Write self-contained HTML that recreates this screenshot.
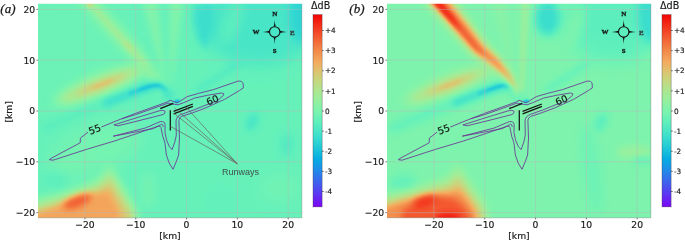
<!DOCTYPE html>
<html lang="en"><head><meta charset="utf-8"><title>Figure</title>
<style>html,body{margin:0;padding:0;background:#fff;overflow:hidden}svg{display:block}</style>
</head><body>
<svg width="685" height="241" viewBox="0 0 685 241">

<defs>
<clipPath id="clip"><rect x="38.0" y="3.75" width="263.8" height="214.05"/></clipPath>
<filter id="b1" filterUnits="userSpaceOnUse" x="-400" y="-400" width="1200" height="1000" color-interpolation-filters="sRGB"><feGaussianBlur stdDeviation="1"/></filter>
<filter id="b1_5" filterUnits="userSpaceOnUse" x="-400" y="-400" width="1200" height="1000" color-interpolation-filters="sRGB"><feGaussianBlur stdDeviation="1.5"/></filter>
<filter id="b2" filterUnits="userSpaceOnUse" x="-400" y="-400" width="1200" height="1000" color-interpolation-filters="sRGB"><feGaussianBlur stdDeviation="2"/></filter>
<filter id="b2_5" filterUnits="userSpaceOnUse" x="-400" y="-400" width="1200" height="1000" color-interpolation-filters="sRGB"><feGaussianBlur stdDeviation="2.5"/></filter>
<filter id="b3" filterUnits="userSpaceOnUse" x="-400" y="-400" width="1200" height="1000" color-interpolation-filters="sRGB"><feGaussianBlur stdDeviation="3"/></filter>
<filter id="b4" filterUnits="userSpaceOnUse" x="-400" y="-400" width="1200" height="1000" color-interpolation-filters="sRGB"><feGaussianBlur stdDeviation="4"/></filter>
<filter id="b5" filterUnits="userSpaceOnUse" x="-400" y="-400" width="1200" height="1000" color-interpolation-filters="sRGB"><feGaussianBlur stdDeviation="5"/></filter>
<filter id="b8" filterUnits="userSpaceOnUse" x="-400" y="-400" width="1200" height="1000" color-interpolation-filters="sRGB"><feGaussianBlur stdDeviation="8"/></filter>
<filter id="b12" filterUnits="userSpaceOnUse" x="-400" y="-400" width="1200" height="1000" color-interpolation-filters="sRGB"><feGaussianBlur stdDeviation="12"/></filter>

<filter id="cmap" filterUnits="userSpaceOnUse" x="0" y="-10" width="360" height="260" color-interpolation-filters="sRGB">
<feComponentTransfer><feFuncR type="table" tableValues="0.488 0.458 0.429 0.400 0.371 0.341 0.312 0.283 0.254 0.225 0.195 0.166 0.137 0.108 0.078 0.049 0.020 0.049 0.078 0.108 0.137 0.166 0.195 0.225 0.254 0.283 0.312 0.341 0.371 0.400 0.429 0.458 0.488 0.517 0.546 0.575 0.604 0.634 0.663 0.692 0.721 0.750 0.780 0.809 0.838 0.867 0.897 0.926 0.955 0.955 0.955 0.955 0.955 0.955 0.955 0.955 0.955 0.955 0.955 0.955 0.955 0.955 0.955 0.955 0.955"/><feFuncG type="table" tableValues="0.020 0.066 0.112 0.157 0.202 0.247 0.291 0.335 0.378 0.420 0.461 0.501 0.539 0.577 0.613 0.648 0.681 0.713 0.743 0.771 0.797 0.822 0.845 0.865 0.884 0.900 0.915 0.927 0.937 0.945 0.950 0.954 0.955 0.954 0.950 0.945 0.937 0.927 0.915 0.900 0.884 0.865 0.845 0.822 0.797 0.771 0.743 0.713 0.681 0.648 0.613 0.577 0.539 0.501 0.461 0.420 0.378 0.335 0.291 0.247 0.202 0.157 0.112 0.066 0.020"/><feFuncB type="table" tableValues="0.955 0.955 0.954 0.952 0.950 0.948 0.945 0.941 0.937 0.932 0.927 0.921 0.915 0.908 0.900 0.892 0.884 0.875 0.865 0.855 0.845 0.834 0.822 0.810 0.797 0.784 0.771 0.757 0.743 0.728 0.713 0.697 0.681 0.665 0.648 0.631 0.613 0.595 0.577 0.558 0.539 0.520 0.501 0.481 0.461 0.440 0.420 0.399 0.378 0.357 0.335 0.313 0.291 0.269 0.247 0.225 0.202 0.180 0.157 0.134 0.112 0.089 0.066 0.043 0.020"/></feComponentTransfer>
</filter>
<linearGradient id="cbar" x1="0" y1="1" x2="0" y2="0">
<stop offset="0.00" stop-color="rgb(124,5,243)"/><stop offset="0.05" stop-color="rgb(100,42,242)"/><stop offset="0.10" stop-color="rgb(76,78,240)"/><stop offset="0.15" stop-color="rgb(52,113,236)"/><stop offset="0.20" stop-color="rgb(28,145,231)"/><stop offset="0.25" stop-color="rgb(5,173,225)"/><stop offset="0.30" stop-color="rgb(28,197,217)"/><stop offset="0.35" stop-color="rgb(52,217,208)"/><stop offset="0.40" stop-color="rgb(76,231,197)"/><stop offset="0.45" stop-color="rgb(100,240,186)"/><stop offset="0.50" stop-color="rgb(124,243,173)"/><stop offset="0.55" stop-color="rgb(148,240,159)"/><stop offset="0.60" stop-color="rgb(171,231,145)"/><stop offset="0.65" stop-color="rgb(195,217,129)"/><stop offset="0.70" stop-color="rgb(219,197,113)"/><stop offset="0.75" stop-color="rgb(243,173,96)"/><stop offset="0.80" stop-color="rgb(243,145,78)"/><stop offset="0.85" stop-color="rgb(243,113,60)"/><stop offset="0.90" stop-color="rgb(243,78,42)"/><stop offset="0.95" stop-color="rgb(243,42,23)"/><stop offset="1.00" stop-color="rgb(243,5,5)"/>
</linearGradient>
</defs>

<rect width="685" height="241" fill="#ffffff"/>
<g id="panelA">
<g clip-path="url(#clip)"><g filter="url(#cmap)"><rect x="36.0" y="1.75" width="267.8" height="218.05" fill="rgb(116,116,116)"/><ellipse cx="260" cy="22" rx="60" ry="44" fill="rgb(98,98,98)" opacity="0.85" filter="url(#b8)" /><ellipse cx="302" cy="13" rx="13" ry="30" fill="rgb(85,85,85)" opacity="0.9" filter="url(#b4)" /><path d="M194,4 L214,4 L213,30 L206,50 L198,40 L193,20 Z" fill="rgb(92,92,92)" opacity="0.85" filter="url(#b3)" /><ellipse cx="232" cy="22" rx="9" ry="24" transform="rotate(20 232 22)" fill="rgb(114,114,114)" opacity="0.7" filter="url(#b4)" /><path d="M198,90 L238,64" stroke-width="5" stroke-linecap="round" fill="none" stroke="rgb(98,98,98)" opacity="0.7" filter="url(#b3)" /><ellipse cx="252" cy="122" rx="6" ry="10" transform="rotate(25 252 122)" fill="rgb(96,96,96)" opacity="0.75" filter="url(#b3)" /><ellipse cx="287" cy="145" rx="7" ry="12" fill="rgb(101,101,101)" opacity="0.7" filter="url(#b4)" /><ellipse cx="280" cy="188" rx="22" ry="16" fill="rgb(125,125,125)" opacity="0.6" filter="url(#b8)" /><ellipse cx="70" cy="60" rx="70" ry="75" fill="rgb(120,120,120)" opacity="0.8" filter="url(#b12)" /><ellipse cx="95" cy="150" rx="50" ry="22" transform="rotate(-20 95 150)" fill="rgb(128,128,128)" opacity="0.7" filter="url(#b8)" /><path d="M77.4,-2.1 L85.6,8.3 L106.8,32.7 L128.7,56.6 L147.2,77.6 L163.5,95.7 L168.5,92.3 L156.8,70.4 L139.3,47.4 L117.2,23.3 L95.4,-0.3 L86.6,-9.9 Z" fill="rgb(141,141,141)" opacity="0.9" filter="url(#b4)" /><path d="M81.4,-4.8 L89.2,5.6 L110.1,29.7 L131.9,53.9 L144.9,67.0 L147.1,65.0 L136.1,50.1 L113.9,26.3 L92.8,2.4 L84.6,-7.2 Z" fill="rgb(150,150,150)" opacity="0.85" filter="url(#b2)" /><ellipse cx="128" cy="46" rx="2.2" ry="7" transform="rotate(-42 128 46)" fill="rgb(167,167,167)" opacity="0.6" filter="url(#b2)" /><ellipse cx="89.5" cy="3.5" rx="3" ry="4" fill="rgb(178,178,178)" opacity="0.7" filter="url(#b1_5)" /><g transform="translate(100,85) rotate(-21)"><ellipse rx="50" ry="12" fill="rgb(143,143,143)" opacity="0.9" filter="url(#b5)" /><ellipse cx="0" rx="40" ry="7" fill="rgb(157,157,157)" opacity="0.9" filter="url(#b3)" /><ellipse cx="1" rx="26" ry="4" fill="rgb(173,173,173)" opacity="0.9" filter="url(#b2_5)" /><ellipse cx="2" rx="13" ry="2" fill="rgb(186,186,186)" opacity="0.7" filter="url(#b1_5)" /></g><path d="M106,103 L128,94.5 L146,88 Q164,81 168.5,95" stroke-width="9" stroke-linecap="round" fill="none" stroke="rgb(89,89,89)" opacity="0.85" filter="url(#b3)" /><path d="M130,93.4 L142,89 Q160,81.5 165.5,89.5" stroke-width="2.6" stroke-linecap="round" fill="none" stroke="rgb(72,72,72)" opacity="0.75" filter="url(#b1_5)" /><path d="M140,89.6 L150,86.2 Q156,84.6 160,85.4" stroke-width="2" stroke-linecap="round" fill="none" stroke="rgb(58,58,58)" opacity="0.4" filter="url(#b1_5)" /><path d="M44,128 L100,105" stroke-width="8" stroke-linecap="round" fill="none" stroke="rgb(104,104,104)" opacity="0.7" filter="url(#b4)" /><ellipse cx="177" cy="101.2" rx="3.2" ry="1.6" transform="rotate(-15 177 101.2)" fill="rgb(58,58,58)" opacity="0.95" filter="url(#b1)" /><path d="M168,98 L142,0 L157,0 Z" fill="rgb(137,137,137)" opacity="0.7" filter="url(#b3)" /><path d="M170,98 L170,0 L183,0 Z" fill="rgb(137,137,137)" opacity="0.7" filter="url(#b3)" /><path d="M20,204 L60,194 L86,185 L100,179 L106,171 L110,164 L115,175 L125,191 L135,208 L144,252 L20,252 Z" fill="rgb(151,151,151)" opacity="0.95" filter="url(#b5)" /><path d="M20,214 L62,202 L86,193 L102,188 L107,181 L110,177 L114,187 L123,201 L131,214 L136,252 L20,252 Z" fill="rgb(181,181,181)" opacity="0.95" filter="url(#b4)" /><path d="M20,219 L50,209 L70,200 L92,194 L104,192 L109,190 L113,199 L119,210 L123,252 L20,252 Z" fill="rgb(197,197,197)" opacity="0.9" filter="url(#b3)" /><ellipse cx="77.5" cy="201.5" rx="15" ry="5.5" transform="rotate(-22 77.5 201.5)" fill="rgb(227,227,227)" opacity="0.95" filter="url(#b3)" /><ellipse cx="148" cy="190" rx="8" ry="18" fill="rgb(128,128,128)" opacity="0.6" filter="url(#b4)" /><ellipse cx="55" cy="180" rx="12" ry="7" fill="rgb(109,109,109)" opacity="0.7" filter="url(#b3)" /><ellipse cx="221" cy="202" rx="10" ry="12" fill="rgb(112,112,112)" opacity="0.6" filter="url(#b5)" /></g><g stroke="#b8b8b8" stroke-width="0.75" opacity="0.6"><line x1="84.89" y1="3.75" x2="84.89" y2="217.8"/><line x1="38.0" y1="212.62" x2="301.8" y2="212.62"/><line x1="135.72" y1="3.75" x2="135.72" y2="217.8"/><line x1="38.0" y1="161.81" x2="301.8" y2="161.81"/><line x1="186.55" y1="3.75" x2="186.55" y2="217.8"/><line x1="38.0" y1="111.00" x2="301.8" y2="111.00"/><line x1="237.38" y1="3.75" x2="237.38" y2="217.8"/><line x1="38.0" y1="60.19" x2="301.8" y2="60.19"/><line x1="288.21" y1="3.75" x2="288.21" y2="217.8"/><line x1="38.0" y1="9.38" x2="301.8" y2="9.38"/></g><g fill="none" stroke="#6c2c94" stroke-width="0.85" stroke-linejoin="round" stroke-linecap="round" opacity="0.95"><path d="M101.7,126.9 L115,121.4 L135.7,113.3 L155,106.4 L168,101.7 L170,100.2 L174.2,101.8 L177,102.8 L180.5,100.8 L187.3,96.6 L198.5,93.4 L213.5,89.6 L237.8,81.2 Q242.6,80.4 243.2,84 L243.3,88 L239.6,90.4 L224.7,99.3 L206,107.8 L191,113.4 L181.7,116.4 Q179,117.5 178.9,120.5 L179.5,138 L178.6,155 L176.5,161 L173,169.3 L169.2,163 L166.4,155 L164.9,142.8 L162.7,136.2 L161,127.5 Q160.6,125.6 158,126.2 L137.2,133.4 L114.8,140.9 L86.7,149.3 L53.1,160.2 L49.3,159.7 L51.2,158.3 L68,149.3 L80.2,142.8 L80.4,138.1 L87.7,132.4"/><path d="M122,118.7 L135.7,114.6 L155,107.8 L168,103.1 L174.5,104.4 L178,104.8 L183.6,102.7 L194.8,98 L207.9,95.2 L221.5,93 Q224.5,93 223.7,95.2 L217.2,100.8 L202.2,106.5 L194.8,109.6 L181.7,114.3 Q176.3,116 176,121 L176.3,135 L174.9,141.8 L172.1,149.6 L169.3,146.4 L166.5,140 L165,132.4 L165.1,124.5 Q164.8,121 160.4,121.6 L145.2,128 L113.3,136.2 L153.4,128.6 L161.6,124.2 Q163,124 163.2,126.5"/><path d="M114.3,124.8 L137,117.6 L160.4,110.5 Q165,110 165.1,111.9 Q165,113.8 162.8,114.6 L140,120.4 L118.4,125.7 Z"/></g><g stroke="#141414" stroke-width="1.25" fill="none"><line x1="160.2" y1="108.7" x2="173.3" y2="103.3"/><line x1="173.6" y1="111.4" x2="192.9" y2="104.0"/><line x1="173.6" y1="113.8" x2="192.9" y2="106.4"/><line x1="170.3" y1="110.2" x2="170.3" y2="130.4"/></g><g font-family="'DejaVu Sans','Liberation Sans',sans-serif" font-size="9.6" fill="#151515" stroke="#151515" stroke-width="0.18" text-anchor="middle"><text transform="translate(96.0,132.6) rotate(-21)">55</text><text transform="translate(213.9,103.2) rotate(-25)">60</text></g><circle cx="274.7" cy="31.9" r="5.2" fill="none" stroke="#111" stroke-width="1.1"/><path transform="rotate(0 274.7 31.9)" d="M273.34999999999997,26.55 Q274.4,25.8 274.7,19.599999999999998 Q275.0,25.8 276.05,26.55 Z" fill="#111"/><path transform="rotate(90 274.7 31.9)" d="M273.34999999999997,26.55 Q274.4,25.8 274.7,19.599999999999998 Q275.0,25.8 276.05,26.55 Z" fill="#111"/><path transform="rotate(180 274.7 31.9)" d="M273.34999999999997,26.55 Q274.4,25.8 274.7,19.599999999999998 Q275.0,25.8 276.05,26.55 Z" fill="#111"/><path transform="rotate(270 274.7 31.9)" d="M273.34999999999997,26.55 Q274.4,25.8 274.7,19.599999999999998 Q275.0,25.8 276.05,26.55 Z" fill="#111"/><g font-family="'Liberation Serif','DejaVu Serif',serif" font-weight="bold" font-size="7.0" fill="#151515" stroke="#151515" stroke-width="0.3" text-anchor="middle"><text x="274.7" y="16.0">N</text><text x="274.7" y="52.9">S</text><text x="256" y="34.3">W</text><text x="292.4" y="34.6" fill="#33423f" stroke="#33423f">E</text></g><g stroke="#6a5b5c" stroke-width="0.75" opacity="0.88"><line x1="237.3" y1="163.8" x2="170.3" y2="126.3"/><line x1="237.3" y1="163.8" x2="173.8" y2="113.2"/><line x1="237.3" y1="163.8" x2="174.5" y2="107.9"/><line x1="237.3" y1="163.8" x2="186" y2="107"/></g><text x="222" y="175.2" font-family="'Liberation Sans','DejaVu Sans',sans-serif" font-size="9" fill="#3f504e">Runways</text></g>
<g stroke="#222" stroke-width="0.6"><line x1="84.89" y1="217.8" x2="84.89" y2="219.4"/><line x1="36.4" y1="212.62" x2="38.0" y2="212.62"/><line x1="135.72" y1="217.8" x2="135.72" y2="219.4"/><line x1="36.4" y1="161.81" x2="38.0" y2="161.81"/><line x1="186.55" y1="217.8" x2="186.55" y2="219.4"/><line x1="36.4" y1="111.00" x2="38.0" y2="111.00"/><line x1="237.38" y1="217.8" x2="237.38" y2="219.4"/><line x1="36.4" y1="60.19" x2="38.0" y2="60.19"/><line x1="288.21" y1="217.8" x2="288.21" y2="219.4"/><line x1="36.4" y1="9.38" x2="38.0" y2="9.38"/></g><g font-family="'DejaVu Sans','Liberation Sans',sans-serif" font-size="9.2" fill="#1a1a1a" stroke="#1a1a1a" stroke-width="0.18"><text x="84.89" y="228.2" text-anchor="middle">−20</text><text x="35.2" y="216.02" text-anchor="end">−20</text><text x="135.72" y="228.2" text-anchor="middle">−10</text><text x="35.2" y="165.21" text-anchor="end">−10</text><text x="186.55" y="228.2" text-anchor="middle">0</text><text x="35.2" y="114.40" text-anchor="end">0</text><text x="237.38" y="228.2" text-anchor="middle">10</text><text x="35.2" y="63.59" text-anchor="end">10</text><text x="288.21" y="228.2" text-anchor="middle">20</text><text x="35.2" y="12.78" text-anchor="end">20</text><text x="170" y="238.6" text-anchor="middle">[km]</text><text transform="translate(12.1,111.9) rotate(-90)" text-anchor="middle">[km]</text></g><rect x="313" y="14.6" width="9.1" height="192.3" fill="url(#cbar)" stroke="#3a3a3a" stroke-width="0.45" stroke-opacity="0.75"/><path d="M301.8,3.75 L301.8,217.8 L38.0,217.8" fill="none" stroke="#3a4a44" stroke-width="0.5" stroke-opacity="0.55"/><g stroke="#222" stroke-width="0.6"><line x1="322" y1="30.52" x2="323.8" y2="30.52"/><line x1="322" y1="50.64" x2="323.8" y2="50.64"/><line x1="322" y1="70.76" x2="323.8" y2="70.76"/><line x1="322" y1="90.88" x2="323.8" y2="90.88"/><line x1="322" y1="111.00" x2="323.8" y2="111.00"/><line x1="322" y1="131.12" x2="323.8" y2="131.12"/><line x1="322" y1="151.24" x2="323.8" y2="151.24"/><line x1="322" y1="171.36" x2="323.8" y2="171.36"/><line x1="322" y1="191.48" x2="323.8" y2="191.48"/></g><g font-family="'DejaVu Sans','Liberation Sans',sans-serif" font-size="7.3" fill="#1a1a1a" stroke="#1a1a1a" stroke-width="0.15"><text x="324.9" y="33.17">+4</text><text x="324.9" y="53.29">+3</text><text x="324.9" y="73.41">+2</text><text x="324.9" y="93.53">+1</text><text x="324.9" y="113.65">0</text><text x="324.9" y="133.77">-1</text><text x="324.9" y="153.89">-2</text><text x="324.9" y="174.01">-3</text><text x="324.9" y="194.13">-4</text></g><text x="311.0" y="8.8" font-family="'DejaVu Sans','Liberation Sans',sans-serif" font-size="9.6" fill="#1a1a1a" stroke="#1a1a1a" stroke-width="0.15">ΔdB</text>
<text x="0.3" y="12.5" font-family="'Liberation Serif','DejaVu Serif',serif" font-style="italic" font-size="13" fill="#1a1a1a" stroke="#1a1a1a" stroke-width="0.25">(a)</text>
</g>
<g id="panelB" transform="translate(349.0,0)">
<g clip-path="url(#clip)"><g filter="url(#cmap)"><rect x="36.0" y="1.75" width="267.8" height="218.05" fill="rgb(128,128,128)"/><ellipse cx="266" cy="22" rx="50" ry="40" fill="rgb(108,108,108)" opacity="0.8" filter="url(#b8)" /><ellipse cx="302" cy="13" rx="13" ry="30" fill="rgb(90,90,90)" opacity="0.9" filter="url(#b4)" /><ellipse cx="198.5" cy="18" rx="13" ry="18" fill="rgb(89,89,89)" opacity="0.9" filter="url(#b4)" /><ellipse cx="226" cy="26" rx="8" ry="22" transform="rotate(15 226 26)" fill="rgb(133,133,133)" opacity="0.7" filter="url(#b4)" /><path d="M198,90 L238,64" stroke-width="5" stroke-linecap="round" fill="none" stroke="rgb(104,104,104)" opacity="0.7" filter="url(#b3)" /><ellipse cx="252" cy="122" rx="6" ry="10" transform="rotate(25 252 122)" fill="rgb(104,104,104)" opacity="0.7" filter="url(#b3)" /><ellipse cx="285" cy="152" rx="18" ry="6" fill="rgb(151,151,151)" opacity="0.8" filter="url(#b4)" /><ellipse cx="293" cy="160" rx="10" ry="3" fill="rgb(104,104,104)" opacity="0.7" filter="url(#b3)" /><ellipse cx="243" cy="170" rx="8" ry="45" transform="rotate(-8 243 170)" fill="rgb(116,116,116)" opacity="0.7" filter="url(#b5)" /><g transform="translate(100,85) rotate(-21)"><ellipse rx="50" ry="12" fill="rgb(143,143,143)" opacity="0.9" filter="url(#b5)" /><ellipse cx="0" rx="40" ry="7" fill="rgb(157,157,157)" opacity="0.9" filter="url(#b3)" /><ellipse cx="1" rx="26" ry="4" fill="rgb(173,173,173)" opacity="0.9" filter="url(#b2_5)" /><ellipse cx="2" rx="13" ry="2" fill="rgb(186,186,186)" opacity="0.7" filter="url(#b1_5)" /></g><path d="M106,103 L128,94.5 L146,88 Q164,81 168.5,95" stroke-width="9" stroke-linecap="round" fill="none" stroke="rgb(89,89,89)" opacity="0.85" filter="url(#b3)" /><path d="M130,93.4 L142,89 Q160,81.5 165.5,89.5" stroke-width="2.6" stroke-linecap="round" fill="none" stroke="rgb(72,72,72)" opacity="0.75" filter="url(#b1_5)" /><path d="M140,89.6 L150,86.2 Q156,84.6 160,85.4" stroke-width="2" stroke-linecap="round" fill="none" stroke="rgb(58,58,58)" opacity="0.4" filter="url(#b1_5)" /><path d="M44,128 L100,105" stroke-width="8" stroke-linecap="round" fill="none" stroke="rgb(104,104,104)" opacity="0.7" filter="url(#b4)" /><ellipse cx="177" cy="101.2" rx="3.2" ry="1.6" transform="rotate(-15 177 101.2)" fill="rgb(58,58,58)" opacity="0.95" filter="url(#b1)" /><path d="M168,98 L142,0 L157,0 Z" fill="rgb(137,137,137)" opacity="0.7" filter="url(#b3)" /><path d="M170,98 L170,0 L183,0 Z" fill="rgb(137,137,137)" opacity="0.7" filter="url(#b3)" /><path d="M176.5,0 L172.5,92" stroke-width="4" fill="none" stroke="rgb(151,151,151)" opacity="0.85" filter="url(#b2)" /><path d="M74.0,3.0 L83.1,12.4 L105.6,37.3 L122.9,56.0 L140.6,67.9 L155.5,78.3 L163.7,88.1 L167.6,97.4 L170.4,96.6 L168.3,85.9 L162.5,72.7 L151.4,56.1 L137.1,42.0 L123.4,22.7 L102.9,-4.4 L94.0,-15.0 Z" fill="rgb(151,151,151)" opacity="0.9" filter="url(#b4)" /><path d="M77.6,-0.2 L86.7,9.3 L108.8,34.7 L125.3,53.6 L142.6,65.7 L157.3,76.9 L164.9,87.5 L168.5,97.1 L169.5,96.9 L167.1,86.5 L160.7,74.1 L149.4,58.3 L134.7,44.4 L120.2,25.3 L99.3,-1.3 L90.4,-11.8 Z" fill="rgb(186,186,186)" opacity="0.95" filter="url(#b3)" /><path d="M79.4,-1.9 L88.6,7.7 L110.6,33.2 L127.0,51.9 L144.1,64.1 L158.2,76.1 L165.6,87.2 L168.9,97.0 L169.1,97.0 L166.4,86.8 L159.8,74.9 L147.9,59.9 L133.0,46.1 L118.4,26.8 L97.4,0.3 L88.6,-10.1 Z" fill="rgb(205,205,205)" opacity="0.95" filter="url(#b2)" /><path d="M77.8,-3.0 L87.4,6.8 L109.6,31.1 L124.4,47.5 L136.8,56.2 L137.2,55.8 L127.6,44.5 L114.4,26.9 L93.6,1.2 L84.2,-9.0 Z" fill="rgb(228,228,228)" opacity="0.9" filter="url(#b2)" /><path d="M78.9,-4.1 L88.0,5.8 L101.5,20.2 L110.7,29.2 L111.3,28.8 L104.5,17.8 L92.0,2.2 L83.1,-7.9 Z" fill="rgb(250,250,250)" opacity="0.9" filter="url(#b2)" /><ellipse cx="54" cy="183" rx="13" ry="8" fill="rgb(109,109,109)" opacity="0.7" filter="url(#b4)" /><path d="M20,199 L40,195 L60,190 L86,182 L100,177 L106,168 L109,162 L114,173 L124,187 L136,204 L146,252 L20,252 Z" fill="rgb(151,151,151)" opacity="0.95" filter="url(#b5)" /><path d="M20,207 L40,202 L60,197 L86,190 L102,187 L107,180 L109,176 L113,185 L123,198 L132,211 L138,252 L20,252 Z" fill="rgb(186,186,186)" opacity="0.95" filter="url(#b4)" /><path d="M20,212 L40,207 L54,202 L72,197 L92,194 L104,193 L110,191 L117,199 L125,211 L130,252 L20,252 Z" fill="rgb(207,207,207)" opacity="0.95" filter="url(#b3)" /><path d="M42,252 L54,210 L70,200 L90,196.5 L106,199 L116,208 L122,218 L125,252 Z" fill="rgb(228,228,228)" opacity="0.95" filter="url(#b3)" /><ellipse cx="76" cy="201.5" rx="12" ry="5" transform="rotate(-20 76 201.5)" fill="rgb(242,242,242)" opacity="0.85" filter="url(#b3)" /><ellipse cx="99" cy="218.5" rx="13" ry="5.5" fill="rgb(252,252,252)" opacity="0.9" filter="url(#b3)" /></g><g stroke="#b8b8b8" stroke-width="0.75" opacity="0.6"><line x1="84.89" y1="3.75" x2="84.89" y2="217.8"/><line x1="38.0" y1="212.62" x2="301.8" y2="212.62"/><line x1="135.72" y1="3.75" x2="135.72" y2="217.8"/><line x1="38.0" y1="161.81" x2="301.8" y2="161.81"/><line x1="186.55" y1="3.75" x2="186.55" y2="217.8"/><line x1="38.0" y1="111.00" x2="301.8" y2="111.00"/><line x1="237.38" y1="3.75" x2="237.38" y2="217.8"/><line x1="38.0" y1="60.19" x2="301.8" y2="60.19"/><line x1="288.21" y1="3.75" x2="288.21" y2="217.8"/><line x1="38.0" y1="9.38" x2="301.8" y2="9.38"/></g><g fill="none" stroke="#6c2c94" stroke-width="0.85" stroke-linejoin="round" stroke-linecap="round" opacity="0.95"><path d="M101.7,126.9 L115,121.4 L135.7,113.3 L155,106.4 L168,101.7 L170,100.2 L174.2,101.8 L177,102.8 L180.5,100.8 L187.3,96.6 L198.5,93.4 L213.5,89.6 L237.8,81.2 Q242.6,80.4 243.2,84 L243.3,88 L239.6,90.4 L224.7,99.3 L206,107.8 L191,113.4 L181.7,116.4 Q179,117.5 178.9,120.5 L179.5,138 L178.6,155 L176.5,161 L173,169.3 L169.2,163 L166.4,155 L164.9,142.8 L162.7,136.2 L161,127.5 Q160.6,125.6 158,126.2 L137.2,133.4 L114.8,140.9 L86.7,149.3 L53.1,160.2 L49.3,159.7 L51.2,158.3 L68,149.3 L80.2,142.8 L80.4,138.1 L87.7,132.4"/><path d="M122,118.7 L135.7,114.6 L155,107.8 L168,103.1 L174.5,104.4 L178,104.8 L183.6,102.7 L194.8,98 L207.9,95.2 L221.5,93 Q224.5,93 223.7,95.2 L217.2,100.8 L202.2,106.5 L194.8,109.6 L181.7,114.3 Q176.3,116 176,121 L176.3,135 L174.9,141.8 L172.1,149.6 L169.3,146.4 L166.5,140 L165,132.4 L165.1,124.5 Q164.8,121 160.4,121.6 L145.2,128 L113.3,136.2 L153.4,128.6 L161.6,124.2 Q163,124 163.2,126.5"/><path d="M114.3,124.8 L137,117.6 L160.4,110.5 Q165,110 165.1,111.9 Q165,113.8 162.8,114.6 L140,120.4 L118.4,125.7 Z"/></g><g stroke="#141414" stroke-width="1.25" fill="none"><line x1="160.2" y1="108.7" x2="173.3" y2="103.3"/><line x1="173.6" y1="111.4" x2="192.9" y2="104.0"/><line x1="173.6" y1="113.8" x2="192.9" y2="106.4"/><line x1="170.3" y1="110.2" x2="170.3" y2="130.4"/></g><g font-family="'DejaVu Sans','Liberation Sans',sans-serif" font-size="9.6" fill="#151515" stroke="#151515" stroke-width="0.18" text-anchor="middle"><text transform="translate(96.0,132.6) rotate(-21)">55</text><text transform="translate(213.9,103.2) rotate(-25)">60</text></g><circle cx="274.7" cy="31.9" r="5.2" fill="none" stroke="#111" stroke-width="1.1"/><path transform="rotate(0 274.7 31.9)" d="M273.34999999999997,26.55 Q274.4,25.8 274.7,19.599999999999998 Q275.0,25.8 276.05,26.55 Z" fill="#111"/><path transform="rotate(90 274.7 31.9)" d="M273.34999999999997,26.55 Q274.4,25.8 274.7,19.599999999999998 Q275.0,25.8 276.05,26.55 Z" fill="#111"/><path transform="rotate(180 274.7 31.9)" d="M273.34999999999997,26.55 Q274.4,25.8 274.7,19.599999999999998 Q275.0,25.8 276.05,26.55 Z" fill="#111"/><path transform="rotate(270 274.7 31.9)" d="M273.34999999999997,26.55 Q274.4,25.8 274.7,19.599999999999998 Q275.0,25.8 276.05,26.55 Z" fill="#111"/><g font-family="'Liberation Serif','DejaVu Serif',serif" font-weight="bold" font-size="7.0" fill="#151515" stroke="#151515" stroke-width="0.3" text-anchor="middle"><text x="274.7" y="16.0">N</text><text x="274.7" y="52.9">S</text><text x="256" y="34.3">W</text><text x="292.4" y="34.6" fill="#33423f" stroke="#33423f">E</text></g></g>
<g stroke="#222" stroke-width="0.6"><line x1="84.89" y1="217.8" x2="84.89" y2="219.4"/><line x1="36.4" y1="212.62" x2="38.0" y2="212.62"/><line x1="135.72" y1="217.8" x2="135.72" y2="219.4"/><line x1="36.4" y1="161.81" x2="38.0" y2="161.81"/><line x1="186.55" y1="217.8" x2="186.55" y2="219.4"/><line x1="36.4" y1="111.00" x2="38.0" y2="111.00"/><line x1="237.38" y1="217.8" x2="237.38" y2="219.4"/><line x1="36.4" y1="60.19" x2="38.0" y2="60.19"/><line x1="288.21" y1="217.8" x2="288.21" y2="219.4"/><line x1="36.4" y1="9.38" x2="38.0" y2="9.38"/></g><g font-family="'DejaVu Sans','Liberation Sans',sans-serif" font-size="9.2" fill="#1a1a1a" stroke="#1a1a1a" stroke-width="0.18"><text x="84.89" y="228.2" text-anchor="middle">−20</text><text x="35.2" y="216.02" text-anchor="end">−20</text><text x="135.72" y="228.2" text-anchor="middle">−10</text><text x="35.2" y="165.21" text-anchor="end">−10</text><text x="186.55" y="228.2" text-anchor="middle">0</text><text x="35.2" y="114.40" text-anchor="end">0</text><text x="237.38" y="228.2" text-anchor="middle">10</text><text x="35.2" y="63.59" text-anchor="end">10</text><text x="288.21" y="228.2" text-anchor="middle">20</text><text x="35.2" y="12.78" text-anchor="end">20</text><text x="170" y="238.6" text-anchor="middle">[km]</text><text transform="translate(12.1,111.9) rotate(-90)" text-anchor="middle">[km]</text></g><rect x="313" y="14.6" width="9.1" height="192.3" fill="url(#cbar)" stroke="#3a3a3a" stroke-width="0.45" stroke-opacity="0.75"/><path d="M301.8,3.75 L301.8,217.8 L38.0,217.8" fill="none" stroke="#3a4a44" stroke-width="0.5" stroke-opacity="0.55"/><g stroke="#222" stroke-width="0.6"><line x1="322" y1="30.52" x2="323.8" y2="30.52"/><line x1="322" y1="50.64" x2="323.8" y2="50.64"/><line x1="322" y1="70.76" x2="323.8" y2="70.76"/><line x1="322" y1="90.88" x2="323.8" y2="90.88"/><line x1="322" y1="111.00" x2="323.8" y2="111.00"/><line x1="322" y1="131.12" x2="323.8" y2="131.12"/><line x1="322" y1="151.24" x2="323.8" y2="151.24"/><line x1="322" y1="171.36" x2="323.8" y2="171.36"/><line x1="322" y1="191.48" x2="323.8" y2="191.48"/></g><g font-family="'DejaVu Sans','Liberation Sans',sans-serif" font-size="7.3" fill="#1a1a1a" stroke="#1a1a1a" stroke-width="0.15"><text x="324.9" y="33.17">+4</text><text x="324.9" y="53.29">+3</text><text x="324.9" y="73.41">+2</text><text x="324.9" y="93.53">+1</text><text x="324.9" y="113.65">0</text><text x="324.9" y="133.77">-1</text><text x="324.9" y="153.89">-2</text><text x="324.9" y="174.01">-3</text><text x="324.9" y="194.13">-4</text></g><text x="311.0" y="8.8" font-family="'DejaVu Sans','Liberation Sans',sans-serif" font-size="9.6" fill="#1a1a1a" stroke="#1a1a1a" stroke-width="0.15">ΔdB</text>
<text x="0.3" y="12.5" font-family="'Liberation Serif','DejaVu Serif',serif" font-style="italic" font-size="13" fill="#1a1a1a" stroke="#1a1a1a" stroke-width="0.25">(b)</text>
</g>
</svg>
</body></html>
